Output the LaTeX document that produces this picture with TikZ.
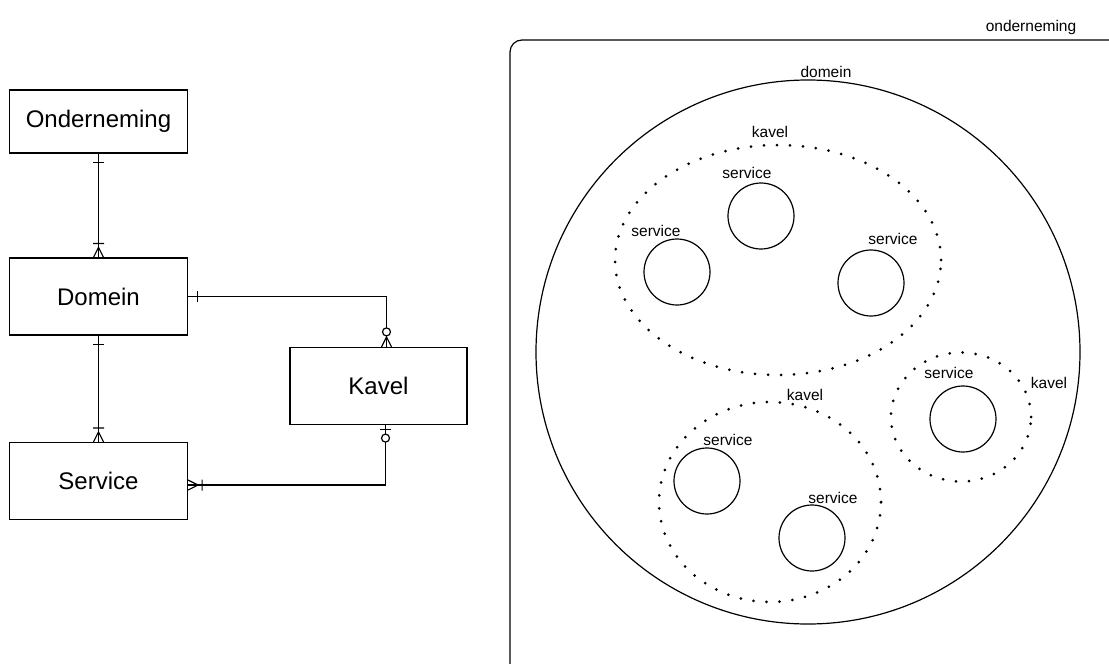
\documentclass[tikz,border=0pt]{standalone}
\usepackage{fontspec}
\setmainfont{Liberation Sans}
\usetikzlibrary{shapes.geometric}

% crow's foot ends for the ER connectors
\pgfdeclarearrow{
  name = one,
  setup code = {\pgfarrowssettipend{0pt}\pgfarrowssetlineend{0pt}\pgfarrowssetbackend{-10pt}},
  drawing code = {
    \pgfpathmoveto{\pgfqpoint{-9pt}{-5.5pt}}\pgfpathlineto{\pgfqpoint{-9pt}{5.5pt}}
    \pgfusepathqstroke}
}
\pgfdeclarearrow{
  name = onemany,
  setup code = {\pgfarrowssettipend{0pt}\pgfarrowssetlineend{0pt}\pgfarrowssetbackend{-15pt}},
  drawing code = {
    \pgfpathmoveto{\pgfqpoint{-14pt}{-5.5pt}}\pgfpathlineto{\pgfqpoint{-14pt}{5.5pt}}
    \pgfpathmoveto{\pgfqpoint{0pt}{5pt}}\pgfpathlineto{\pgfqpoint{-10pt}{0pt}}
    \pgfpathlineto{\pgfqpoint{0pt}{-5pt}}
    \pgfusepathqstroke}
}
\pgfdeclarearrow{
  name = zeromany,
  setup code = {\pgfarrowssettipend{0pt}\pgfarrowssetlineend{0pt}\pgfarrowssetbackend{-19pt}},
  drawing code = {
    \pgfpathmoveto{\pgfqpoint{0pt}{5pt}}\pgfpathlineto{\pgfqpoint{-10pt}{0pt}}
    \pgfpathlineto{\pgfqpoint{0pt}{-5pt}}
    \pgfusepathqstroke
    \pgfsetfillcolor{white}
    \pgfpathcircle{\pgfqpoint{-15pt}{0pt}}{4pt}
    \pgfusepathqfillstroke}
}
\pgfdeclarearrow{
  name = zeroone,
  setup code = {\pgfarrowssettipend{0pt}\pgfarrowssetlineend{0pt}\pgfarrowssetbackend{-17pt}},
  drawing code = {
    \pgfpathmoveto{\pgfqpoint{-4pt}{-5.5pt}}\pgfpathlineto{\pgfqpoint{-4pt}{5.5pt}}
    \pgfusepathqstroke
    \pgfsetfillcolor{white}
    \pgfpathcircle{\pgfqpoint{-13pt}{0pt}}{4pt}
    \pgfusepathqfillstroke}
}

\begin{document}
\begin{tikzpicture}[
        x=1pt, y=-1pt, line width=1.2pt,
        entity/.style={rectangle, draw, minimum width=178pt, minimum height=77pt, inner sep=0pt, font=\fontsize{24}{28}\selectfont},
        svcring/.style={circle, draw, minimum size=66pt, inner sep=0pt},
        kavelring/.style={ellipse, draw, inner sep=0pt, line width=3pt, line cap=round, dash pattern=on 0pt off 13pt},
        tag/.style={inner sep=0pt, font=\fontsize{15.5}{18}\selectfont},
      ]
      \useasboundingbox (0,0) rectangle (1109,664);

      %ER model
      \node[entity, minimum height=63pt] (ond) at (98.5,121.5) {Onderneming};
      \node[entity] (dom) at (98.5,296.5) {Domein};
      \node[entity] (svc) at (98.5,481)   {Service};
      \node[entity, minimum width=177pt] (kav) at (378.5,386) {Kavel};

      \draw[{one}-{onemany}] (ond) -- (dom);
      \draw[{one}-{onemany}] (dom) -- (svc);
      \draw[{one}-{zeromany}] (dom.east) -| ([xshift=8pt]kav.north);
      \draw[{zeroone}-{onemany}] ([xshift=7pt]kav.south) |- ([yshift=-4pt]svc.east);

      %Onderneming frame
      \draw[rounded corners=12pt] (510,40) rectangle (1125,678);
      \node[tag] (tond) at (1031,27) {onderneming};

      %Domein
      \node[circle, draw, minimum size=544pt, inner sep=0pt] (dc) at (808,352) {};
      \node[tag] (tdc) at (826,72) {domein};

      %Kavels
      \node[kavelring, minimum width=326pt, minimum height=230pt] (k1) at (778,260) {};
      \node[kavelring, minimum width=222pt, minimum height=200pt] (k2) at (770,502) {};
      \node[kavelring, minimum width=140pt, minimum height=129pt] (k3) at (961,417) {};
      \node[tag] (tk1) at (770,132)  {kavel};
      \node[tag] (tk2) at (805,395)  {kavel};
      \node[tag] (tk3) at (1049,383) {kavel};

      %Services
      \node[svcring] (s1) at (677,272) {};
      \node[svcring] (s2) at (761,216) {};
      \node[svcring] (s3) at (871,283) {};
      \node[svcring] (s4) at (963,419) {};
      \node[svcring] (s5) at (707,481) {};
      \node[svcring] (s6) at (812,538) {};
      \node[tag] (ts1) at (656,231) {service};
      \node[tag] (ts2) at (747,173) {service};
      \node[tag] (ts3) at (893,239) {service};
      \node[tag] (ts4) at (949,373) {service};
      \node[tag] (ts5) at (728,440) {service};
      \node[tag] (ts6) at (833,498) {service};
    \end{tikzpicture}
\end{document}
